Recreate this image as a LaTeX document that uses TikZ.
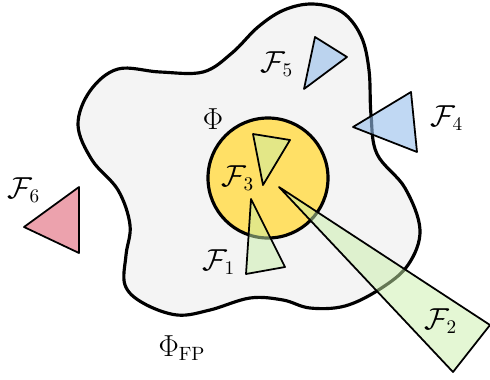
\documentclass[tikz,border=0pt]{standalone}
\usepackage{tikz}

\definecolor{fpgray}{RGB}{244,244,244}
\definecolor{phiyellow}{RGB}{255,224,102}
\definecolor{fgreen}{RGB}{201,239,169}
\definecolor{fblue}{RGB}{150,190,235}
\definecolor{fred}{RGB}{224,100,118}

\begin{document}
\begin{tikzpicture}[
    x=0.02cm, y=-0.02cm,
    region/.style={draw=black, line width=1.8pt, line join=round},
    cone/.style={draw=black, line width=1pt, line join=round, fill opacity=0.6},
    lab/.style={inner sep=1pt, font=\fontsize{16}{19}\selectfont},
]
    \useasboundingbox (0,0) rectangle (490,379);

    % 外部区域 Phi_FP
    \draw[region, fill=fpgray] plot[smooth cycle, tension=0.6] coordinates {
        (313,4) (342,12) (361,36) (369,70) (371,115) (377,154)
        (405,188) (420,230) (408,265) (380,289) (345,306) (310,308)
        (283,300) (250,298) (210,310) (177,315) (143,303) (125,285)
        (126,255) (130,225) (118,190) (92,160) (78,125)
        (90,91) (118,69) (160,72) (203,72) (232,53) (258,27) (284,10)};

    % 内部圆 Phi
    \draw[region, fill=phiyellow] (268,178) circle (60);

    % 三角形 F1 ... F6
    \draw[cone, fill=fgreen, fill opacity=0.5] (253,134) -- (290,140) -- (263,185) -- cycle; % F3
    \draw[cone, fill=fgreen, fill opacity=0.5] (251,199) -- (285,267) -- (246,274) -- cycle; % F1
    \draw[cone, fill=fgreen, fill opacity=0.5] (279,187) -- (490,325) -- (453,372) -- cycle; % F2
    \draw[cone, fill=fblue] (353,127) -- (411,92) -- (417,152) -- cycle;                    % F4
    \draw[cone, fill=fblue] (315,37) -- (347,57) -- (304,89) -- cycle;                      % F5
    \draw[cone, fill=fred] (79,187) -- (79,253) -- (24,227) -- cycle;                       % F6

    % 标签
    \node[lab] (phi)   at (213,119) {$\Phi$};
    \node[lab] (phifp) at (182,348) {$\Phi_{\mathrm{FP}}$};
    \node[lab] (f1)    at (219,262) {$\mathcal{F}_1$};
    \node[lab] (f2)    at (441,321) {$\mathcal{F}_2$};
    \node[lab] (f3)    at (238,178) {$\mathcal{F}_3$};
    \node[lab] (f4)    at (447,118) {$\mathcal{F}_4$};
    \node[lab] (f5)    at (277,64)  {$\mathcal{F}_5$};
    \node[lab] (f6)    at (24,190)  {$\mathcal{F}_6$};

\end{tikzpicture}
\end{document}
